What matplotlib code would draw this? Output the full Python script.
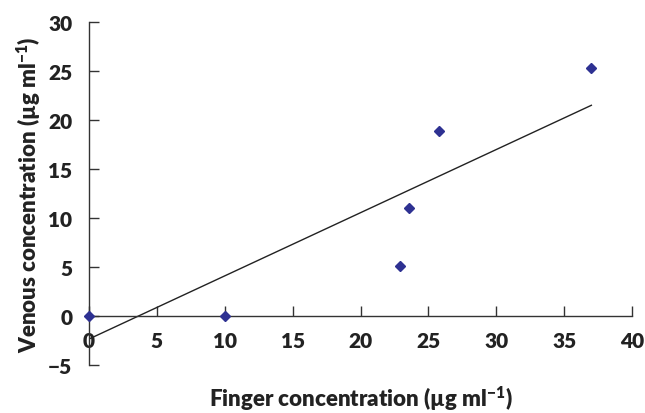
import matplotlib
matplotlib.use("Agg")
import matplotlib.pyplot as plt
import numpy as np

# Data
finger = [0, 10, 22.9, 23.6, 25.8, 37.0]
venous = [0, 0, 5.1, 11.0, 18.9, 25.3]

# Regression line as drawn (intercept, slope), spanning the data range
fit_intercept = -2.35
fit_slope = 0.645

x_ticks = [0, 5, 10, 15, 20, 25, 30, 35, 40]
y_ticks = [-5, 0, 5, 10, 15, 20, 25, 30]


def fmt(v):
    return str(v).replace("-", "\u2212")


def main():
    plt.rcParams["font.family"] = ["Lato", "DejaVu Sans"]
    plt.rcParams["font.weight"] = "heavy"
    plt.rcParams["mathtext.fontset"] = "custom"
    plt.rcParams["mathtext.rm"] = "Lato:heavy"
    plt.rcParams["mathtext.it"] = "Lato:heavy"
    plt.rcParams["mathtext.bf"] = "Lato:heavy"

    fig = plt.figure(figsize=(6.45, 4.14), dpi=100)
    ax = fig.add_axes([0.138, 0.116, 0.842, 0.828])

    # Fitted line
    fx = np.array([min(finger), max(finger)])
    ax.plot(fx, fit_intercept + fit_slope * fx, color="#222222", lw=1.0, zorder=2)

    # Data points
    ax.plot(finger, venous, linestyle="none", marker="D", markersize=4.8,
            color="#2e3192", zorder=3, clip_on=False)

    # spines first: moving a spine resets the tick labels
    ax.spines["top"].set_visible(False)
    ax.spines["right"].set_visible(False)
    ax.spines["bottom"].set_position(("data", 0))
    for s in ("left", "bottom"):
        ax.spines[s].set_color("#333333")
        ax.spines[s].set_linewidth(1.0)

    ax.set_xlim(0, 40)
    ax.set_ylim(-5, 30)
    ax.set_xticks(x_ticks, labels=[fmt(t) for t in x_ticks],
                  fontweight="heavy", fontsize=15, color="#222222")
    ax.set_yticks(y_ticks, labels=[fmt(t) for t in y_ticks],
                  fontweight="heavy", fontsize=15, color="#222222")

    ax.tick_params(axis="both", direction="in", length=7, width=1.0,
                   color="#333333")
    ax.tick_params(axis="x", pad=11)
    ax.tick_params(axis="y", pad=12)

    ax.set_xlabel("Finger concentration (µg ml$^{-1}$)", fontsize=16,
                  fontweight="heavy", color="#222222")
    ax.set_ylabel("Venous concentration (µg ml$^{-1}$)", fontsize=16,
                  fontweight="heavy", color="#222222", labelpad=4)
    ax.xaxis.set_label_coords(0.5, -0.055)

    fig.savefig("out.png", dpi=100)


if __name__ == "__main__":
    main()
